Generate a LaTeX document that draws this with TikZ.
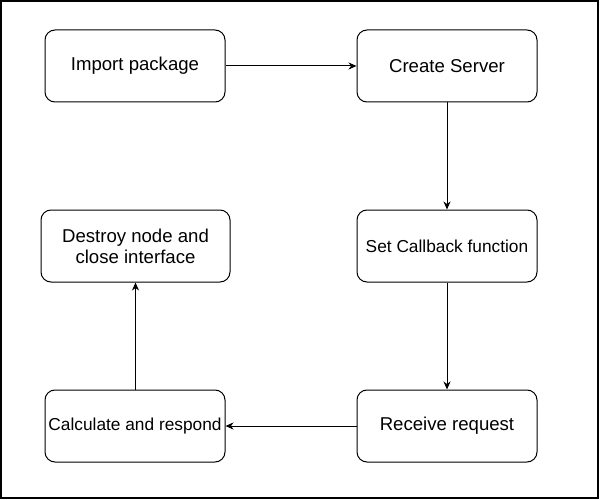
\documentclass[tikz,border=0pt]{standalone}
\usepackage{fontspec}
\setmainfont{Liberation Sans}
\usepackage{tikz}
\usetikzlibrary{
  arrows.meta,
  positioning
}
\definecolor{linecolor}{RGB}{0, 0, 0}
\definecolor{textcolor}{RGB}{0, 0, 0}
\tikzset{
blocktext/.style={
  align=center,
  font=\fontsize{18.6}{21}\selectfont,
  text=textcolor
},
smalltext/.style={
  font=\fontsize{17.3}{20}\selectfont
},
stepblock/.style={
  draw=linecolor,
  rounded corners=10pt,
  line width=1pt,
  fill=white,
  minimum height=72pt,
  minimum width=180pt,
  inner sep=0pt,
  blocktext
},
arrow/.style={
  -{Stealth[length=8pt,width=7pt,inset=2.5pt]},
  line width=1pt,
  draw=linecolor
}
}

\begin{document}
\begin{tikzpicture}[x=1pt, y=-1pt]
    \useasboundingbox (0,0) rectangle (600,500);
    % Outer frame
    \draw[line width=1.2pt] (1,1) rectangle (598,498);

    % Steps, left column and right column
    \node[stepblock] (importpkg) at (135,66) {Import package};
    \node[stepblock] (server) at (447,66) {Create Server};
    \node[stepblock, smalltext] (callback) at (447,246) {Set Callback function};
    \node[stepblock] (request) at (447,426) {Receive request};
    \node[stepblock, smalltext] (respond) at (135,426) {Calculate and respond};
    \node[stepblock, minimum width=189pt] (destroy) at (135.5,246) {Destroy node and\\close interface};

    % Flow
    \draw[arrow] (importpkg) -- (server);
    \draw[arrow] (server) -- (callback);
    \draw[arrow] (callback) -- (request);
    \draw[arrow] (request) -- (respond);
    \draw[arrow] (respond.north -| destroy.south) -- (destroy.south);

  \end{tikzpicture}
\end{document}
